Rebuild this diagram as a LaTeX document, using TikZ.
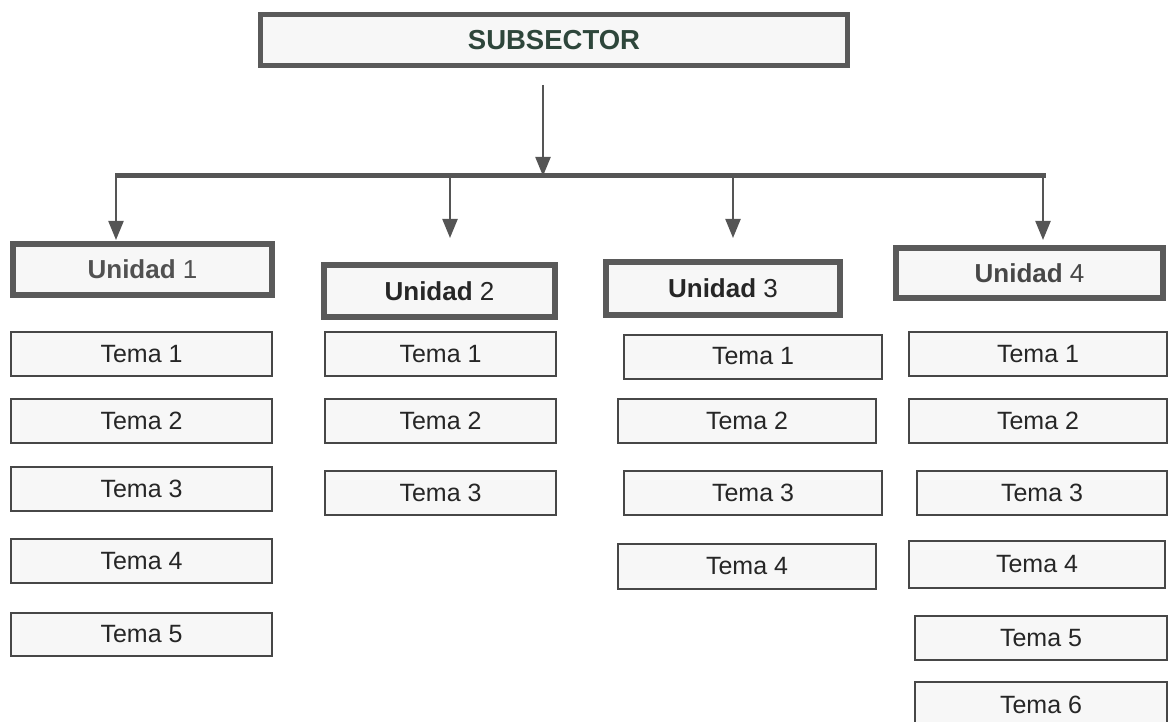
\documentclass[tikz,border=0pt]{standalone}
\usepackage{fontspec}
\setmainfont{Liberation Sans}
\usetikzlibrary{arrows.meta}

\definecolor{linegray}{HTML}{555555}
\definecolor{framegray}{HTML}{5A5A5A}
\definecolor{temaline}{HTML}{474747}
\definecolor{boxfill}{HTML}{F7F7F7}
\definecolor{titlecol}{HTML}{2E463B}
\definecolor{textdark}{HTML}{262626}

\tikzset{
  x=1pt, y=-1pt,
  headbox/.style={draw=framegray, line width=5pt, fill=boxfill, inner sep=0pt,
    font=\fontsize{27.5pt}{31pt}\selectfont\bfseries, text=titlecol},
  unitbox/.style={draw=framegray, line width=6pt, fill=boxfill, inner sep=0pt,
    font=\fontsize{26pt}{30pt}\selectfont, text=textdark},
  temabox/.style={draw=temaline, line width=2pt, fill=boxfill, inner sep=0pt,
    minimum height=44pt, font=\fontsize{25pt}{29pt}\selectfont, text=textdark},
  arr/.style={draw=linegray, line width=2.2pt,
    -{Triangle[length=19pt,width=15pt]}, color=linegray},
  busline/.style={draw=linegray, line width=5pt},
}

\begin{document}
\begin{tikzpicture}
\useasboundingbox (0,0) rectangle (1170,722);

% title
\node[headbox, minimum width=587pt, minimum height=51pt] (sub) at (554,40) {SUBSECTOR};

% units
\node[unitbox, minimum width=259pt, minimum height=51pt, text=textdark!80] (u1) at (142.5,269.5) {\textbf{Unidad} 1};
\node[unitbox, minimum width=231pt, minimum height=52pt] (u2) at (439.5,291) {\textbf{Unidad} 2};
\node[unitbox, minimum width=234pt, minimum height=53pt] (u3) at (723,288.5) {\textbf{Unidad} 3};
\node[unitbox, minimum width=267pt, minimum height=50pt, text=textdark!85] (u4) at (1029.5,273) {\textbf{Unidad} 4};

% distribution bus and arrows
\coordinate (trunk) at (543,85);
\coordinate (hub) at (543,176);
\coordinate (j1) at (116,176);
\coordinate (j2) at (450,176);
\coordinate (j3) at (733,176);
\coordinate (j4) at (1043,176);
\coordinate (t1) at (116,240);
\coordinate (t2) at (450,238);
\coordinate (t3) at (733,238);
\coordinate (t4) at (1043,240);

\draw[busline] ([xshift=-1pt]j1) -- ([xshift=3pt]j4);
\draw[arr] (trunk) -- (hub);
\draw[arr] (j1) -- (t1);
\draw[arr] (j2) -- (t2);
\draw[arr] (j3) -- (t3);
\draw[arr] (j4) -- (t4);

% topics of unit 1
\node[temabox, minimum width=261pt] (a1) at (141.5,354) {Tema 1};
\node[temabox, minimum width=261pt] (a2) at (141.5,421) {Tema 2};
\node[temabox, minimum width=261pt] (a3) at (141.5,489) {Tema 3};
\node[temabox, minimum width=261pt] (a4) at (141.5,561) {Tema 4};
\node[temabox, minimum width=261pt, minimum height=43pt] (a5) at (141.5,634.5) {Tema 5};

% topics of unit 2
\node[temabox, minimum width=231pt] (b1) at (440.5,354) {Tema 1};
\node[temabox, minimum width=231pt] (b2) at (440.5,421) {Tema 2};
\node[temabox, minimum width=231pt] (b3) at (440.5,493) {Tema 3};

% topics of unit 3
\node[temabox, minimum width=258pt] (c1) at (753,356.5) {Tema 1};
\node[temabox, minimum width=258pt] (c2) at (747,421) {Tema 2};
\node[temabox, minimum width=258pt] (c3) at (753,493) {Tema 3};
\node[temabox, minimum width=258pt, minimum height=45pt] (c4) at (747,566.5) {Tema 4};

% topics of unit 4
\node[temabox, minimum width=258pt] (d1) at (1038,354) {Tema 1};
\node[temabox, minimum width=258pt] (d2) at (1038,421) {Tema 2};
\node[temabox, minimum width=250pt] (d3) at (1042,493) {Tema 3};
\node[temabox, minimum width=256pt, minimum height=47pt] (d4) at (1037,564.5) {Tema 4};
\node[temabox, minimum width=252pt] (d5) at (1041,638) {Tema 5};
\node[temabox, minimum width=252pt, minimum height=46pt] (d6) at (1041,705) {Tema 6};
\end{tikzpicture}
\end{document}
